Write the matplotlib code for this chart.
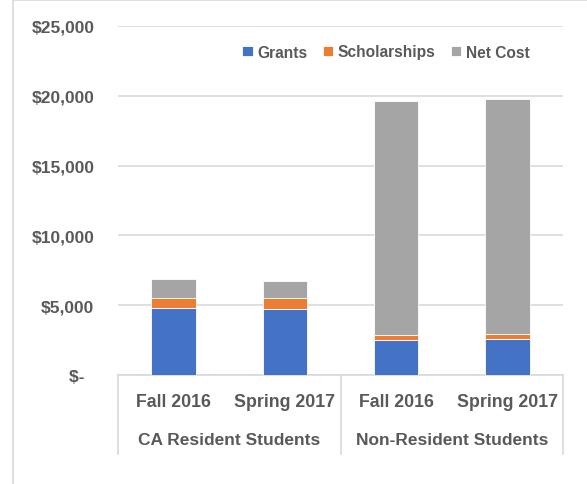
import numpy as np
import matplotlib
matplotlib.use("Agg")
import matplotlib.pyplot as plt
from matplotlib.lines import Line2D

plt.rcParams['font.family'] = ['Liberation Sans', 'DejaVu Sans']
plt.rcParams['font.weight'] = 'bold'

terms = ["Fall 2016", "Spring 2017", "Fall 2016", "Spring 2017"]
groups = ["CA Resident Students", "Non-Resident Students"]
grants = [4780, 4710, 2530, 2600]
scholarships = [740, 810, 340, 320]
net_cost = [1340, 1200, 16780, 16830]
yticks = [0, 5000, 10000, 15000, 20000, 25000]
ytick_labels = ["$-  ", "$5,000", "$10,000", "$15,000", "$20,000", "$25,000"]

txt = '#595959'
grid = '#d9d9d9'

fig = plt.figure(figsize=(5.87, 4.85), dpi=100)
ax = fig.add_axes([118/587, 1-376/485, (563-118)/587, (376-27)/485])

x = np.arange(len(terms))
w = 0.40
g = np.array(grants)
s = np.array(scholarships)
n = np.array(net_cost)
ax.bar(x, g, w, color='#4472C4', edgecolor='white', linewidth=0.6, label='Grants', zorder=3)
ax.bar(x, s, w, bottom=g, color='#ED7D31', edgecolor='white', linewidth=0.6, label='Scholarships', zorder=3)
ax.bar(x, n, w, bottom=g+s, color='#A5A5A5', edgecolor='white', linewidth=0.6, label='Net Cost', zorder=3)

ax.set_xlim(-0.5, len(terms)-0.5)
ax.set_ylim(0, 25000)
ax.set_yticks(yticks)
ax.set_yticklabels(ytick_labels, color=txt, fontsize=12.5, fontweight='bold')
ax.tick_params(axis='y', length=0, pad=17)
ax.set_xticks([])
ax.yaxis.grid(True, color=grid, linewidth=1.2, zorder=0)
ax.set_axisbelow(True)
for sp in ['top', 'right', 'left']:
    ax.spines[sp].set_visible(False)
ax.spines['bottom'].set_color(grid)
ax.spines['bottom'].set_linewidth(1.2)

# multi-level category axis
tr = ax.get_xaxis_transform()
for xv in [-0.5, 1.5, 3.5]:
    ax.plot([xv, xv], [0, -0.226], transform=tr, color=grid, lw=1.2, clip_on=False)
for i, t in enumerate(terms):
    ax.text(i, -0.077, t, transform=tr, ha='center', va='center', color=txt, fontsize=12.8, fontweight='bold')
for j, grp in enumerate(groups):
    ax.text(0.5 + 2*j, -0.186, grp, transform=tr, ha='center', va='center', color=txt, fontsize=12.5, fontweight='bold')

leg = fig.legend(loc='center', bbox_to_anchor=(386/587, 1-53/485), ncol=3, frameon=False,
                 handlelength=0.65, handleheight=0.65, handletextpad=0.3, columnspacing=1.0,
                 prop={'size': 11.2, 'weight': 'bold'})
for t in leg.get_texts():
    t.set_color(txt)

# chart border
fig.add_artist(Line2D([13/587, 13/587], [0, 1], color=grid, lw=1.2))
fig.add_artist(Line2D([13/587, 1], [1-1/485, 1-1/485], color=grid, lw=1.2))

fig.savefig('out.png', dpi=100)
